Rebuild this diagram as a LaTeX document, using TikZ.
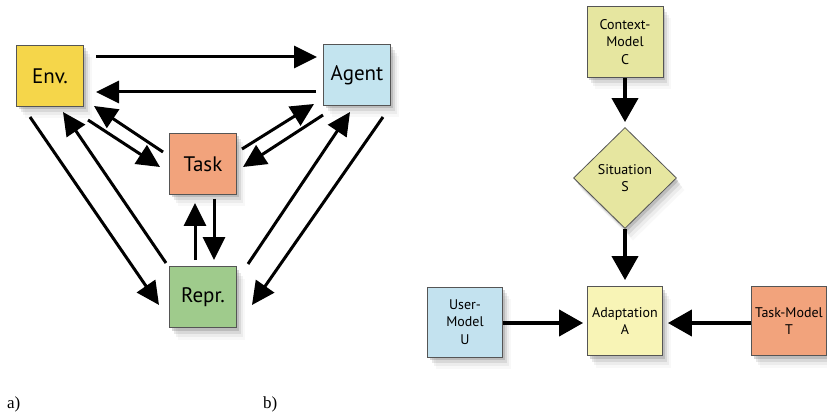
\documentclass[tikz,border=0pt]{standalone}
\usepackage{fontspec}
\setmainfont{PT Sans}
\newfontfamily\capfont{Liberation Serif}
\usetikzlibrary{arrows.meta,shapes.geometric,shadows,calc}
\definecolor{envc}{HTML}{F5D64A}
\definecolor{agentc}{HTML}{C3E4EF}
\definecolor{taskc}{HTML}{F2A37C}
\definecolor{reprc}{HTML}{9FCB8C}
\definecolor{ctxc}{HTML}{E6E6A0}
\definecolor{adapc}{HTML}{F8F4B6}
\definecolor{userc}{HTML}{C3E2EF}
\definecolor{edgec}{HTML}{555555}
\tikzset{
  shad/.style={
    drop shadow={shadow xshift=2pt,shadow yshift=-3pt,opacity=.3},
    drop shadow={shadow xshift=4pt,shadow yshift=-6pt,opacity=.18},
    drop shadow={shadow xshift=6pt,shadow yshift=-9pt,opacity=.1},
    drop shadow={shadow xshift=8pt,shadow yshift=-12pt,opacity=.05}},
  bigbox/.style={shad,draw=edgec,line width=0.8pt,minimum width=67pt,minimum height=61pt,inner sep=0pt,font=\fontsize{21}{24}\selectfont},
  smallbox/.style={shad,draw=edgec,line width=0.8pt,minimum width=75pt,minimum height=70pt,inner sep=0pt,align=center,font=\fontsize{14}{17.5}\selectfont},
  arrL/.style={line width=3pt,-{Triangle[length=23pt,width=22pt]}},
  arrR/.style={line width=4pt,-{Triangle[length=24pt,width=26pt]}},
  caplabel/.style={font=\capfont\fontsize{17}{19}\selectfont,inner sep=0pt}
}
\begin{document}
\begin{tikzpicture}[x=1pt,y=-1pt]
\useasboundingbox[fill=white] (0,0) rectangle (827,414);
% ---- a)
\node[bigbox,fill=envc] (env) at (50,76) {Env.};
\node[bigbox,fill=agentc] (agent) at (357,75) {Agent};
\node[bigbox,fill=taskc] (task) at (203,164) {Task};
\node[bigbox,fill=reprc] (repr) at (203,297) {Repr.};

\draw[arrL] ($(env)+(46,-19)$) -- ($(agent)+(-40,-18)$);
\draw[arrL] ($(agent)+(-41,17)$) -- ($(env)+(46,16)$);
\draw[arrL] ($(env)+(38,44)$) -- ($(task)+(-43,3)$);
\draw[arrL] ($(task)+(-40,-12)$) -- ($(env)+(44,30)$);
\draw[arrL] ($(agent)+(-34,40)$) -- ($(task)+(40,3)$);
\draw[arrL] ($(task)+(39,-15)$) -- ($(agent)+(-43,29)$);
\draw[arrL] ($(env)+(-20,41)$) -- ($(repr)+(-44,8)$);
\draw[arrL] ($(repr)+(-37,-34)$) -- ($(env)+(13,36)$);
\draw[arrL] ($(agent)+(26,42)$) -- ($(repr)+(49,8)$);
\draw[arrL] ($(repr)+(45,-33)$) -- ($(agent)+(-7,37)$);
\draw[arrL] ($(repr)+(-8,-37)$) -- ($(task)+(-8,39)$);
\draw[arrL] ($(task)+(11,35)$) -- ($(repr)+(11,-37)$);

% ---- b)
\node[smallbox,fill=ctxc,minimum width=76pt,minimum height=71pt] (ctx) at (625,42) {Context-\\Model\\C};
\node[shad,diamond,draw=edgec,line width=0.8pt,fill=ctxc,minimum width=103pt,minimum height=101pt,inner sep=0pt,align=center,font=\fontsize{14}{17.5}\selectfont] (sit) at (625,178) {Situation\\S};
\node[smallbox,fill=adapc,minimum height=69pt] (adap) at (625,321) {Adaptation\\A};
\node[smallbox,fill=userc] (user) at (465,322) {User-\\Model\\U};
\node[smallbox,fill=taskc,minimum height=69pt] (tmod) at (789,321) {Task-Model\\T};

\draw[arrR] (ctx.south) -- ($(sit.north)+(0,-5)$);
\draw[arrR] (sit.south) -- ($(adap.north)+(0,-6)$);
\draw[arrR] ($(user.east)+(0,1)$) -- ($(adap.west)+(-4,2)$);
\draw[arrR] ($(tmod.west)+(0,2)$) -- ($(adap.east)+(5,2)$);

\node[caplabel,anchor=west] (la) at (7,404) {a)};
\node[caplabel,anchor=west] (lb) at (263,404) {b)};
\end{tikzpicture}
\end{document}
